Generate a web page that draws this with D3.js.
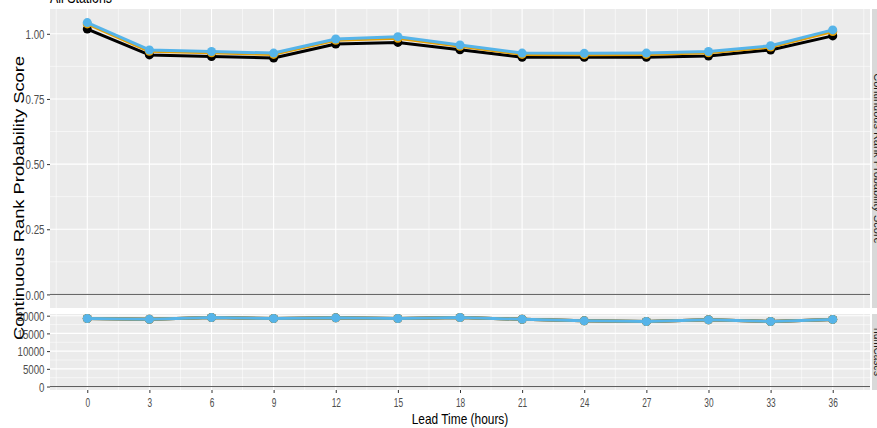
<!DOCTYPE html>
<html>
<head>
<meta charset="utf-8">
<script src="https://cdn.jsdelivr.net/npm/d3@7"></script>
<style>
  body { margin: 0; background: #fff; }
  svg { display: block; font-family: "Liberation Sans", Arial, sans-serif; }
</style>
</head>
<body>
<div class="center"></div>
<script>
// lead times (hours)
var leadTimes = [0, 3, 6, 9, 12, 15, 18, 21, 24, 27, 30, 33, 36];
var xTicks = [0, 3, 6, 9, 12, 15, 18, 21, 24, 27, 30, 33, 36];

// CRPS per series
var crpsBlack  = [1.018, 0.919, 0.913, 0.907, 0.961, 0.967, 0.939, 0.910, 0.910, 0.910, 0.915, 0.938, 0.992];
var crpsOrange = [1.038, 0.933, 0.927, 0.921, 0.975, 0.983, 0.952, 0.921, 0.920, 0.921, 0.927, 0.949, 1.009];
var crpsBlue   = [1.043, 0.938, 0.932, 0.926, 0.980, 0.989, 0.957, 0.926, 0.925, 0.926, 0.932, 0.954, 1.015];

// number of cases per series
var casesBlack  = [19200, 19000, 19500, 19200, 19400, 19200, 19500, 19000, 18550, 18350, 18850, 18350, 18950];
var casesOrange = [19200, 19000, 19500, 19200, 19400, 19200, 19500, 19000, 18550, 18350, 18850, 18350, 18950];
var casesBlue   = [19200, 19000, 19500, 19200, 19400, 19200, 19500, 19000, 18550, 18350, 18850, 18350, 18950];

var crpsTicks  = [0, 0.25, 0.5, 0.75, 1.0];
var crpsMinor  = [0.125, 0.375, 0.625, 0.875];
var casesTicks = [0, 5000, 10000, 15000, 20000];
var casesMinor = [2500, 7500, 12500, 17500];
var seriesColors = ["#000000", "#E69F00", "#56B4E9"];

var width = 877, height = 428;
var left = 50, right = 870;

var svg = d3.select(".center").append("svg")
    .attr("width", width)
    .attr("height", height);

// x scale with ggplot-like 5% expansion
var xExt = d3.extent(leadTimes), xPad = (xExt[1] - xExt[0]) * 0.05;
var x = d3.scaleLinear()
    .domain([xExt[0] - xPad, xExt[1] + xPad])
    .range([left, right]);
var xMinor = [-1.5];
xTicks.forEach(function(t){ xMinor.push(t + 1.5); });

function panel(top, bottom, series, yTicks, yMinor, fmt, strip, stripScale) {
  var all = [0];
  series.forEach(function(s){ all = all.concat(s); });
  var lo = d3.min(all), hi = d3.max(all), pad = (hi - lo) * 0.05;
  var y = d3.scaleLinear().domain([lo - pad, hi + pad]).range([bottom, top]);

  var g = svg.append("g");
  g.append("rect")
      .attr("x", left).attr("y", top)
      .attr("width", right - left).attr("height", bottom - top)
      .attr("fill", "#EBEBEB");

  // minor grid
  g.selectAll(".ymin").data(yMinor).enter().append("line")
      .attr("x1", left).attr("x2", right)
      .attr("y1", function(d){ return y(d); }).attr("y2", function(d){ return y(d); })
      .attr("stroke", "#fff").attr("stroke-width", 0.55);
  g.selectAll(".xmin").data(xMinor.filter(function(d){ return d > x.domain()[0] && d < x.domain()[1]; }))
      .enter().append("line")
      .attr("y1", top).attr("y2", bottom)
      .attr("x1", function(d){ return x(d); }).attr("x2", function(d){ return x(d); })
      .attr("stroke", "#fff").attr("stroke-width", 0.55);
  // major grid
  g.selectAll(".ymaj").data(yTicks).enter().append("line")
      .attr("x1", left).attr("x2", right)
      .attr("y1", function(d){ return y(d); }).attr("y2", function(d){ return y(d); })
      .attr("stroke", "#fff").attr("stroke-width", 1.1);
  g.selectAll(".xmaj").data(xTicks).enter().append("line")
      .attr("y1", top).attr("y2", bottom)
      .attr("x1", function(d){ return x(d); }).attr("x2", function(d){ return x(d); })
      .attr("stroke", "#fff").attr("stroke-width", 1.1);

  // zero line
  g.append("line")
      .attr("x1", left).attr("x2", right)
      .attr("y1", y(0)).attr("y2", y(0))
      .attr("stroke", "#5a5a5a").attr("stroke-width", 1);

  var line = d3.line()
      .x(function(d, i){ return x(leadTimes[i]); })
      .y(function(d){ return y(d); });

  series.forEach(function(s, k) {
    g.append("path")
        .datum(s)
        .attr("d", line)
        .attr("fill", "none")
        .attr("stroke", seriesColors[k])
        .attr("stroke-width", 3)
        .attr("stroke-linejoin", "round");
    g.selectAll(".pt" + k).data(s).enter().append("circle")
        .attr("cx", function(d, i){ return x(leadTimes[i]); })
        .attr("cy", function(d){ return y(d); })
        .attr("r", 4.5)
        .attr("fill", seriesColors[k]);
  });

  // y axis
  var ax = svg.append("g")
      .attr("transform", "translate(" + left + ",0)")
      .call(d3.axisLeft(y).tickValues(yTicks).tickFormat(fmt).tickSize(3).tickSizeOuter(0));
  ax.select(".domain").remove();
  ax.selectAll(".tick line").attr("stroke", "#333").attr("stroke-width", 1);
  ax.selectAll(".tick text")
      .attr("x", 0).attr("dy", "0.35em")
      .attr("transform", "translate(-5.5,0) scale(0.72,1)")
      .attr("fill", "#4D4D4D")
      .attr("font-size", "13.5px")
      .attr("font-family", "Liberation Sans, Arial, sans-serif");

  // strip on the right
  svg.append("rect")
      .attr("x", right + 2).attr("y", top)
      .attr("width", 20).attr("height", bottom - top)
      .attr("fill", "#D9D9D9");
  svg.append("text")
      .text(strip)
      .attr("transform", "translate(874," + ((top + bottom) / 2) + ") rotate(90) scale(" + stripScale + ",1)")
      .attr("text-anchor", "middle")
      .attr("font-size", "10px")
      .attr("fill", "#1A1A1A");

  return y;
}

panel(9, 308, [crpsBlack, crpsOrange, crpsBlue], crpsTicks, crpsMinor,
      d3.format(".2f"), "Continuous Rank Probability Score", 1.1);
panel(314, 390, [casesBlack, casesOrange, casesBlue], casesTicks, casesMinor,
      d3.format("d"), "numCases", 1.0);

// x axis
var xa = svg.append("g")
    .attr("transform", "translate(0,390)")
    .call(d3.axisBottom(x).tickValues(xTicks).tickSize(3).tickSizeOuter(0));
xa.select(".domain").remove();
xa.selectAll(".tick line").attr("stroke", "#333").attr("stroke-width", 1);
xa.selectAll(".tick text")
    .attr("y", 0).attr("dy", 0)
    .attr("transform", "translate(0,17) scale(0.64,1)")
    .attr("fill", "#4D4D4D")
    .attr("font-size", "13px")
    .attr("font-family", "Liberation Sans, Arial, sans-serif");

// titles
svg.append("text")
    .text("All Stations")
    .attr("transform", "translate(50,3) scale(0.73,1)")
    .attr("font-size", "17px")
    .attr("fill", "#000");

svg.append("text")
    .text("Lead Time (hours)")
    .attr("transform", "translate(" + ((left + right) / 2) + ",424) scale(0.85,1)")
    .attr("text-anchor", "middle")
    .attr("font-size", "14px")
    .attr("fill", "#000");

svg.append("text")
    .text("Continuous Rank Probability Score")
    .attr("transform", "translate(24,198) rotate(-90) scale(1.31,1)")
    .attr("text-anchor", "middle")
    .attr("font-size", "14px")
    .attr("fill", "#000");
</script>
</body>
</html>
